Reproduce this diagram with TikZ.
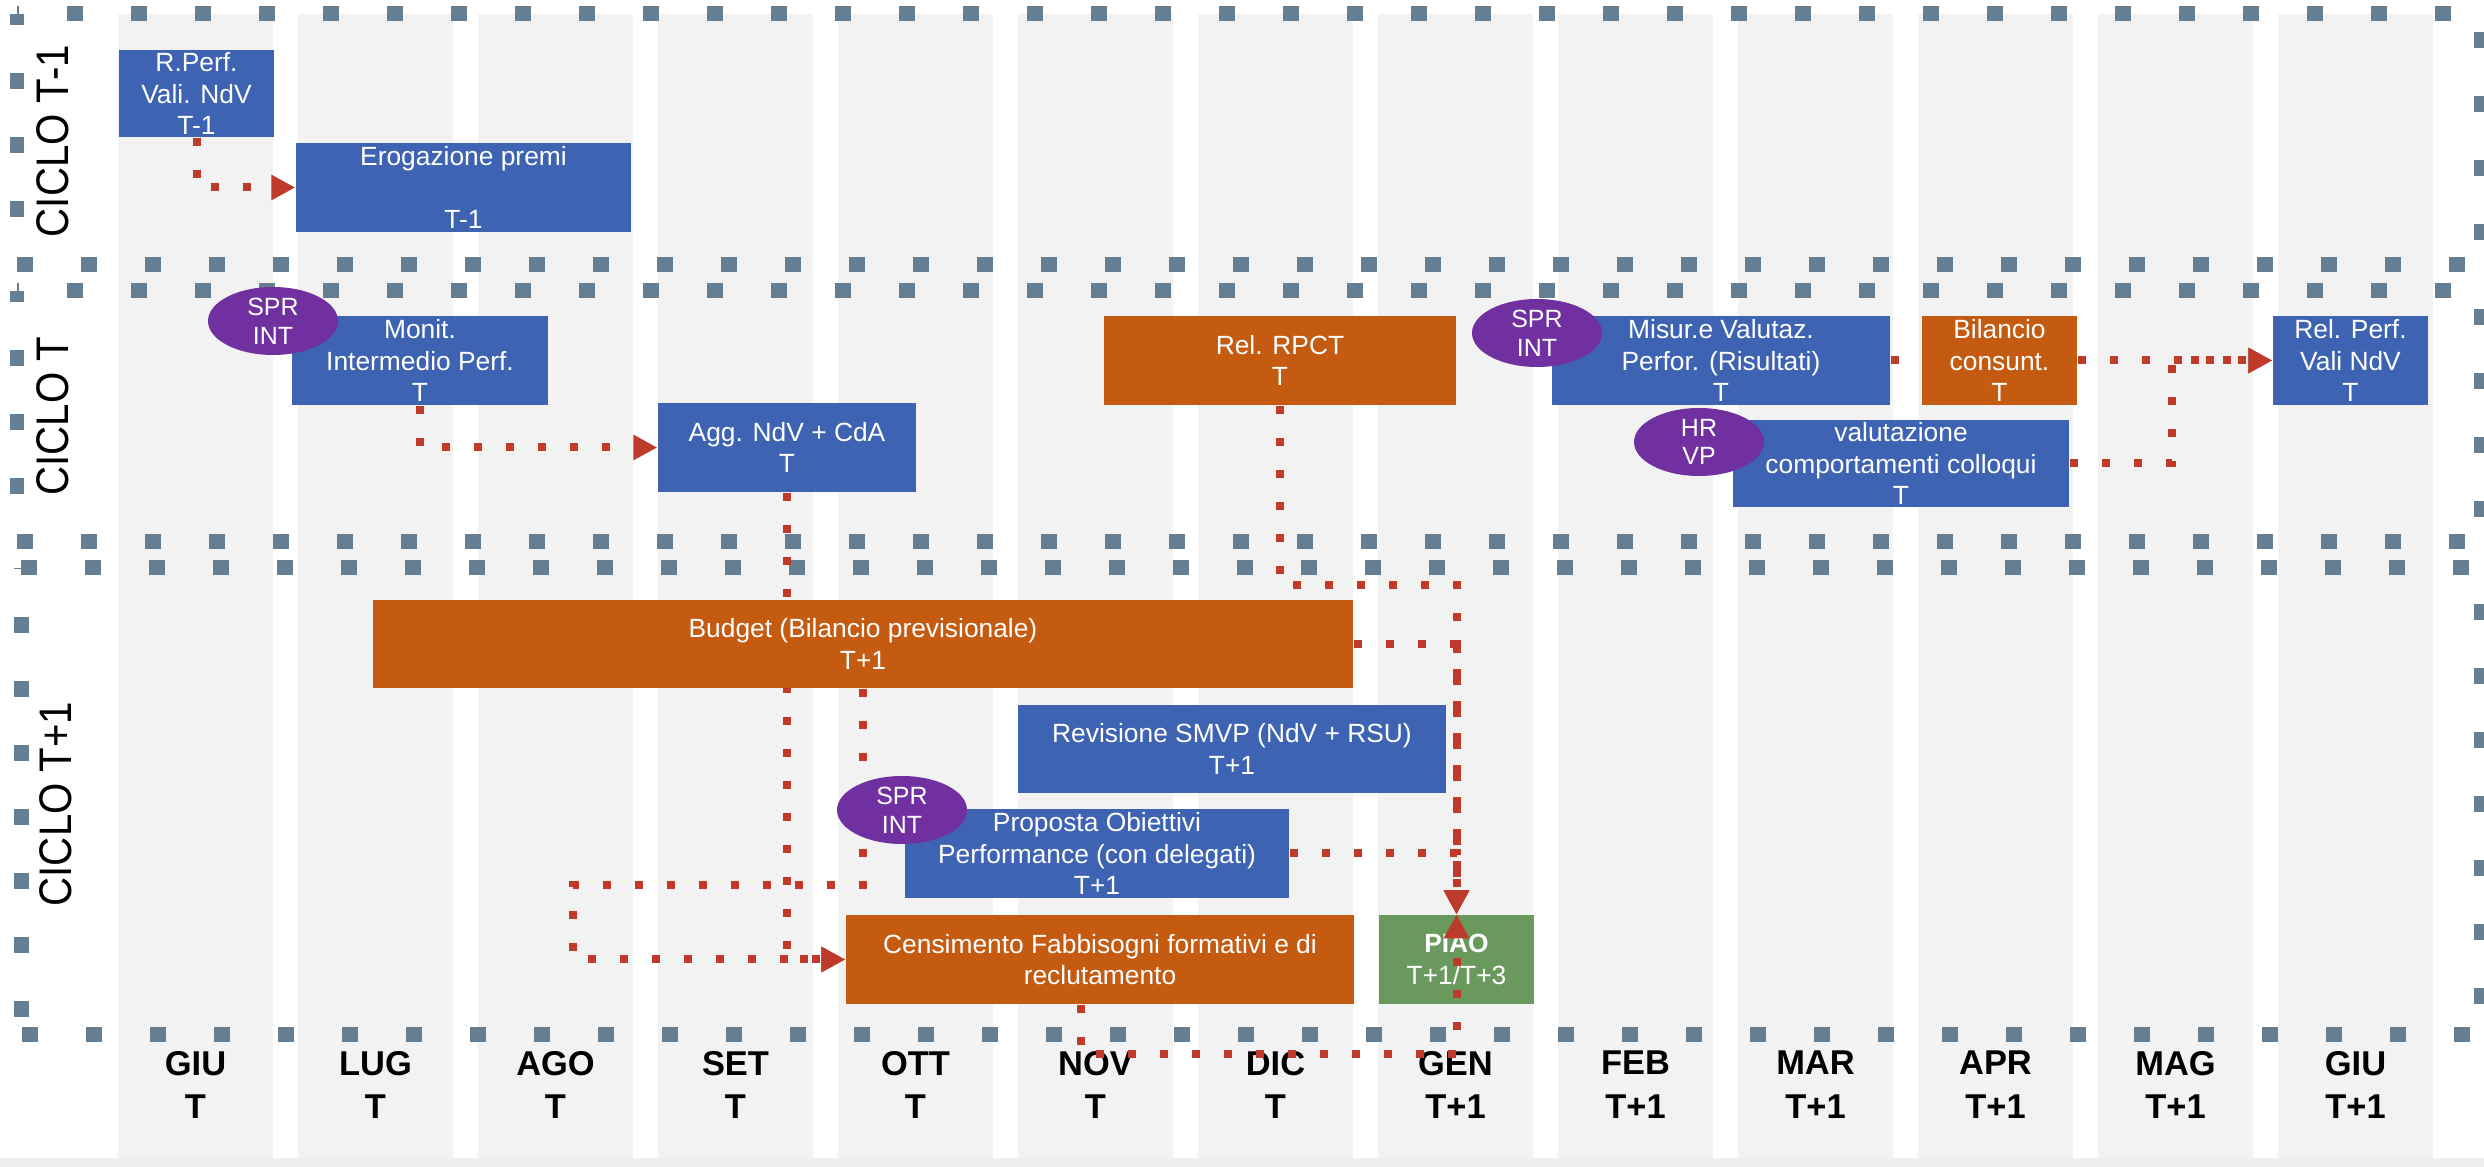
\documentclass[tikz,border=0pt]{standalone}
\usepackage{fontspec}
\setmainfont{Liberation Sans}
\newfontfamily\lanefont[FakeStretch=0.88]{Liberation Sans}
\usepackage{tikz}
\usetikzlibrary{shapes.geometric,arrows.meta,positioning}
\definecolor{colgray}{RGB}{242,242,242}
\definecolor{colband}{RGB}{238,240,240}
\definecolor{laneblue}{RGB}{101,126,145}
\definecolor{boxblue}{RGB}{61,99,178}
\definecolor{boxorange}{RGB}{197,90,17}
\definecolor{boxgreen}{RGB}{106,153,94}
\definecolor{rolepurple}{RGB}{112,48,160}
\definecolor{flowred}{RGB}{190,58,42}
\pgfdeclarelayer{bg}
\pgfdeclarelayer{links}
\pgfsetlayers{bg,links,main}

\begin{document}
\begin{tikzpicture}[
   box/.style={rectangle, inner sep=0pt, text=white, align=center, font=\fontsize{7.5}{9}\selectfont},
   role/.style={ellipse, fill=rolepurple, text=white, align=center, inner sep=0pt,
      minimum width=1.30cm, minimum height=0.68cm, font=\fontsize{7.1}{8.2}\selectfont},
   month/.style={align=center, font=\fontsize{9.8}{12.5}\selectfont\bfseries},
   lanelabel/.style={rotate=90, font=\lanefont\fontsize{13}{15}\selectfont},
   lane/.style={laneblue, line width=0.15cm, dash pattern=on 0.16cm off 0.48cm},
   flow/.style={flowred, line width=0.08cm, dash pattern=on 0.08cm off 0.24cm,
      -{Triangle[length=0.24cm,width=0.24cm]}}]
   \useasboundingbox (0,0) rectangle (24.84,-11.67);
   \begin{pgfonlayer}{bg}
   \fill[colband] (0,-11.58) rectangle (24.84,-11.67);
   \begin{scope}[every node/.style={rectangle,fill=colgray,inner sep=0pt,minimum width=1.55cm,minimum height=11.44cm}]
    \node (m1) at (1.955,-5.86) {};
    \node (m2) at (3.755,-5.86) {};
    \node (m3) at (5.555,-5.86) {};
    \node (m4) at (7.355,-5.86) {};
    \node (m5) at (9.155,-5.86) {};
    \node (m6) at (10.955,-5.86) {};
    \node (m7) at (12.755,-5.86) {};
    \node (m8) at (14.555,-5.86) {};
    \node (m9) at (16.355,-5.86) {};
    \node (m10) at (18.155,-5.86) {};
    \node (m11) at (19.955,-5.86) {};
    \node (m12) at (21.755,-5.86) {};
    \node (m13) at (23.555,-5.86) {};
   \end{scope}
   % cycles
   \draw[lane, dash phase=0.14cm] (0.17,-0.14) -- (24.81,-0.14) -- (24.81,-2.65);
   \draw[lane, dash phase=0.48cm] (24.81,-2.65) -- (0.17,-2.65) -- (0.17,-0.14);
   \draw[lane, dash phase=0.14cm] (0.17,-2.91) -- (24.81,-2.91) -- (24.81,-5.42);
   \draw[lane, dash phase=0.48cm] (24.81,-5.42) -- (0.17,-5.42) -- (0.17,-2.91);
   \draw[lane] (0.21,-5.68) -- (24.81,-5.68) -- (24.81,-10.35);
   \draw[lane, dash phase=0.53cm] (24.81,-10.35) -- (0.21,-10.35);
   \draw[lane, dash phase=0.46cm] (0.21,-10.35) -- (0.21,-5.68);
   \end{pgfonlayer}

   \node[lanelabel] (ciclo1) at (0.53,-1.41) {CICLO T-1};
   \node[lanelabel] (ciclo2) at (0.53,-4.16) {CICLO T};
   \node[lanelabel] (ciclo3) at (0.56,-8.04) {CICLO T+1};

   \node[month] (giu) at (1.955,-10.85) {GIU\\T};
   \node[month] (lug) at (3.755,-10.85) {LUG\\T};
   \node[month] (ago) at (5.555,-10.85) {AGO\\T};
   \node[month] (set) at (7.355,-10.85) {SET\\T};
   \node[month] (ott) at (9.155,-10.85) {OTT\\T};
   \node[month] (nov) at (10.955,-10.85) {NOV\\T};
   \node[month] (dic) at (12.755,-10.85) {DIC\\T};
   \node[month] (gen) at (14.555,-10.85) {GEN\\T+1};
   \node[month] (feb) at (16.355,-10.85) {FEB\\T+1};
   \node[month] (mar) at (18.155,-10.85) {MAR\\T+1};
   \node[month] (apr) at (19.955,-10.85) {APR\\T+1};
   \node[month] (mag) at (21.755,-10.85) {MAG\\T+1};
   \node[month] (giub) at (23.555,-10.85) {GIU\\T+1};

   \begin{scope}[every node/.style={box,fill=boxblue}]
    \node[minimum width=1.55cm, minimum height=0.87cm] (rperf) at (1.965,-0.935) {R.Perf.\\Vali. NdV\\T-1};
    \node[minimum width=3.35cm, minimum height=0.89cm] (erog) at (4.635,-1.875) {Erogazione premi\\[9pt]T-1};
    \node[minimum width=2.56cm, minimum height=0.89cm] (monit) at (4.20,-3.605) {Monit.\\Intermedio Perf.\\T};
    \node[minimum width=2.58cm, minimum height=0.89cm] (agg) at (7.87,-4.475) {Agg. NdV + CdA\\T};
    \node[minimum width=3.38cm, minimum height=0.89cm] (misur) at (17.21,-3.605) {Misur.e Valutaz.\\Perfor. (Risultati)\\T};
    \node[minimum width=1.55cm, minimum height=0.89cm] (relperf) at (23.505,-3.605) {Rel. Perf.\\Vali NdV\\T};
    \node[minimum width=3.36cm, minimum height=0.87cm] (valut) at (19.01,-4.635) {valutazione\\comportamenti colloqui\\T};
    \node[minimum width=4.28cm, minimum height=0.88cm] (revis) at (12.32,-7.49) {Revisione SMVP (NdV + RSU)\\T+1};
    \node[minimum width=3.84cm, minimum height=0.89cm] (proposta) at (10.97,-8.535) {Proposta Obiettivi\\Performance (con delegati)\\T+1};
   \end{scope}
   \begin{scope}[every node/.style={box,fill=boxorange}]
    \node[minimum width=3.52cm, minimum height=0.89cm] (relrpct) at (12.80,-3.605) {Rel. RPCT\\T};
    \node[minimum width=1.55cm, minimum height=0.89cm] (bilcons) at (19.995,-3.605) {Bilancio\\consunt.\\T};
    \node[minimum width=9.80cm, minimum height=0.88cm] (budget) at (8.63,-6.44) {Budget (Bilancio previsionale)\\T+1};
    \node[minimum width=5.08cm, minimum height=0.89cm] (censim) at (11.00,-9.595) {Censimento Fabbisogni formativi e di\\reclutamento};
   \end{scope}
   \node[box, fill=boxgreen, minimum width=1.55cm, minimum height=0.89cm] (piao) at (14.565,-9.595) {\textbf{PIAO}\\T+1/T+3};

   \node[role] (spr1) at (2.73,-3.21) {SPR\\INT};
   \node[role] (spr2) at (15.37,-3.33) {SPR\\INT};
   \node[role] (hrvp) at (16.99,-4.42) {HR\\VP};
   \node[role] (spr3) at (9.02,-8.10) {SPR\\INT};

   \begin{pgfonlayer}{links}
   \begin{scope}[flow]
    \draw (rperf.south) |- (erog.west);
    \draw (monit.south) |- (agg.west);
    \draw[-] (misur.east) -- (bilcons.west);
    \draw (bilcons.east) -- (relperf.west);
    \draw (valut.east) -- ++(1.02,0) |- (relperf.west);
    \draw (relrpct.south) -- ++(0,-1.79) -| (piao.north);
    \draw (budget.east) -| (piao.north);
    \draw (proposta.east) -| (piao.north);
    \draw (agg.south) |- (censim.west);
    \draw (budget.south) -- ++(0,-1.96) -- ++(-2.90,0) |- (censim.west);
   \end{scope}
   \end{pgfonlayer}
   \draw[flow] ([xshift=-0.19cm]censim.south) -- ++(0,-0.49) -| (piao.north);
\end{tikzpicture}
\end{document}
